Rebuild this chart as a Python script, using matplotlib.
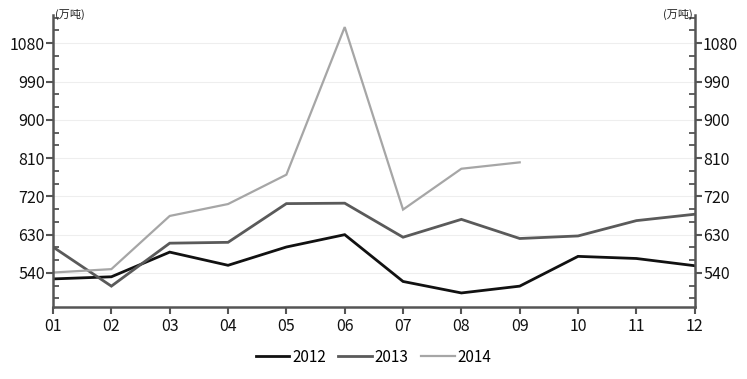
import matplotlib
matplotlib.use("Agg")
import matplotlib.pyplot as plt
from matplotlib.ticker import MultipleLocator, FixedLocator

plt.rcParams['font.family'] = ['Noto Sans CJK SC', 'DejaVu Sans']

months = ["01", "02", "03", "04", "05", "06", "07", "08", "09", "10", "11", "12"]
s2012 = [526, 531, 589, 558, 601, 630, 520, 493, 509, 579, 574, 557]
s2013 = [601, 509, 610, 612, 703, 704, 624, 666, 621, 627, 663, 678]
s2014 = [541, 549, 674, 702, 771, 1118, 689, 785, 800]
yticks = [540, 630, 720, 810, 900, 990, 1080]
unit = "(万吨)"

fig = plt.figure(figsize=(7.47, 3.79), dpi=100)
ax = fig.add_axes([0.071, 0.19, 0.859, 0.77])

x = list(range(len(months)))
ax.plot(x, s2012, color="#111111", lw=2.0, label="2012", solid_joinstyle="miter")
ax.plot(x, s2013, color="#5a5a5a", lw=2.0, label="2013", solid_joinstyle="miter")
ax.plot(x[:len(s2014)], s2014, color="#a6a6a6", lw=1.6, label="2014", solid_joinstyle="miter")

ax.set_xlim(0, len(months) - 1)
ax.set_ylim(460, 1146)
ax.set_xticks(x)
ax.set_xticklabels(months)
ax.yaxis.set_major_locator(FixedLocator(yticks))
ax.yaxis.set_minor_locator(MultipleLocator(30))

for s in ["left", "right", "bottom"]:
    ax.spines[s].set_color("#555555")
    ax.spines[s].set_linewidth(1.8)
ax.spines["top"].set_visible(False)

ax.grid(axis="y", which="major", color="#eeeeee", lw=0.8)
ax.set_axisbelow(True)

ax.tick_params(axis="y", which="major", direction="out", length=5, width=1.5,
               color="#555555", left=True, right=True, labelleft=True, labelright=True,
               labelsize=11.5, pad=1, labelcolor="#111111")
ax.tick_params(axis="y", which="minor", direction="in", length=4, width=1.3,
               color="#555555", left=True, right=True)
ax.tick_params(axis="x", which="major", direction="out", length=5, width=1.5,
               color="#555555", labelsize=11.5, pad=3, labelcolor="#111111")

fig.text(0.073, 0.962, unit, fontsize=8, ha="left", va="center", color="#222222")
fig.text(0.927, 0.962, unit, fontsize=8, ha="right", va="center", color="#222222")

leg = fig.legend(loc="center", bbox_to_anchor=(0.5, 0.058), ncol=3, frameon=False,
                 fontsize=11, handlelength=2.2, handletextpad=0.2, columnspacing=0.8)

fig.savefig("out.png", dpi=100)
